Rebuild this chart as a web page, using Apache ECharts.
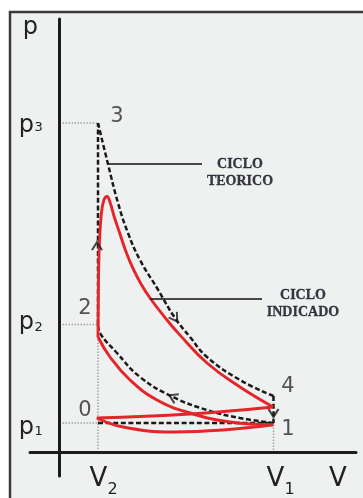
<!DOCTYPE html>
<html><head><meta charset="utf-8">
<script src="https://cdn.jsdelivr.net/npm/echarts@6/dist/echarts.min.js"></script>
<style>html,body{margin:0;padding:0;background:#fff}#c{width:363px;height:498px}</style>
</head><body><div id="c"></div>
<script>
// ---- key volumes / pressures (V2 = 1, p1 = 1) ----
const V2 = 1, V1 = 5.5, P1 = 1, P2 = 4.4, P3 = 11.345, P4 = 1.93;

// axis tick labels (main letter + subscript)
const xTickValues = [V2, V1, 7.14];
const xTickLabels = [['V','2'], ['V','1'], ['V','']];
const yTickValues = [P1, P2, P3, 14.62];
const yTickLabels = [['p','1'], ['p','2'], ['p','3'], ['p','']];

// theoretical cycle (dashed)
const theoCompression = [[5.5,1.0],[4.641,1.172],[3.795,1.448],[2.923,1.897],[2.077,2.586],[1.487,3.414],[1.051,4.103],[1.0,4.4]];
const theoCombustion = [[1.0,4.4],[1.0,11.345]];
const theoExpansion = [[1.0,11.345],[1.256,9.931],[1.513,8.586],[1.769,7.552],[2.077,6.621],[2.513,5.655],[2.974,4.621],[3.359,3.966],[3.795,3.276],[4.641,2.483],[5.5,1.93]];
const theoExhaustDrop = [[5.5,1.93],[5.5,1.0]];
const theoExchange = [[1.0,1.0],[5.5,1.0]];

// indicated cycle (red)
const indCompression = [[5.49,0.94],[4.385,1.034],[3.359,1.345],[2.513,1.793],[1.821,2.483],[1.308,3.276],[1.0,3.966]];
const indExpansion = [[1.0,3.966],[1.008,5.241],[1.018,6.4],[1.04,7.3],[1.085,8.2],[1.15,8.68],[1.231,8.81],[1.31,8.6],[1.41,8.14],[1.564,7.52],[1.72,6.9],[1.897,6.33],[2.1,5.8],[2.333,5.310],[2.769,4.552],[3.103,4.03],[3.795,3.069],[4.641,2.241],[5.49,1.552]];
const indExhaust = [[5.49,1.552],[3.359,1.31],[0.97,1.172]];
const indIntake = [[0.97,1.172],[1.641,0.862],[2.923,0.690],[4.205,0.759],[5.49,0.94]];

// dotted guide lines
const guides = [
  [[0.09,P3],[V2,P3]],
  [[0.09,P2],[V2,P2]],
  [[0.09,P1],[V2,P1]],
  [[V2,P2],[V2,0.05]],
  [[V1,0.95],[V1,0.05]]
];

// arrows: [V, p, rotation deg]
const arrows = [[0.974,7.10,0],[2.974,4.62,214],[2.923,1.897,64],[5.5,1.345,180]];

// point numbers
const pointLabels = [['0',0.667,1.43],['1',5.87,0.78],['2',0.667,4.93],['3',1.487,11.58],['4',5.87,2.25]];

// annotations: [text, V, p]
const notes = [['CICLO\nTEORICO',4.641,9.64],['CICLO\nINDICADO',6.256,5.12]];
const leaders = [[[1.256,9.931],[3.667,9.931]],[[2.333,5.276],[5.205,5.276]]];

const AX = '#1c1c1c', RED = '#e4262a', DASH = '#1a1a1a', TXT = '#222';
const FONT = 'DejaVu Sans';
const DASHPAT = [5,2.6];

function lineSeries(data, color, width, type, z) {
  return {type:'line', data:data, smooth:0.45, symbol:'none', silent:true, z:z,
    lineStyle:{color:color, width:width, type:type, cap:'butt'}};
}
function straight(data, color, width, type, z) {
  const s = lineSeries(data, color, width, type, z); s.smooth = false; return s;
}

const series = [];
guides.forEach(g => series.push(straight(g, '#a3a3a3', 1.5, [1.5,1.5], 1)));
series.push(lineSeries(theoCompression, DASH, 2.5, DASHPAT, 3));
series.push(straight(theoCombustion, DASH, 2.5, DASHPAT, 3));
series.push(lineSeries(theoExpansion, DASH, 2.5, DASHPAT, 3));
series.push(straight(theoExhaustDrop, DASH, 2.5, DASHPAT, 3));
series.push(straight(theoExchange, DASH, 2.5, DASHPAT, 3));
[indCompression, indExpansion, indExhaust, indIntake].forEach(d => series.push(lineSeries(d, RED, 2.9, 'solid', 4)));
leaders.forEach(l => series.push(straight(l, '#111', 1.3, 'solid', 5)));
series.push({type:'scatter', silent:true, z:6,
  data: arrows.map(a => ({value:[a[0],a[1]], symbolRotate:a[2]})),
  symbol:'path://M0,9 L5,0 L10,9', symbolSize:[10,8],
  itemStyle:{color:'rgba(0,0,0,0)', borderColor:'#1a1a1a', borderWidth:1.9}});
series.push({type:'scatter', silent:true, z:6, symbolSize:0,
  data: pointLabels.map(p => ({name:p[0], value:[p[1],p[2]]})),
  label:{show:true, position:'inside', formatter:'{b}', color:'#2b2b2b', fontFamily:FONT, fontSize:21}});
series.push({type:'scatter', silent:true, z:6, symbolSize:0,
  data: notes.map(n => ({name:n[0], value:[n[1],n[2]]})),
  label:{show:true, position:'inside', formatter:'{b}', color:'#0a0a18', fontFamily:'Liberation Serif',
    fontWeight:'bold', fontSize:14, lineHeight:17, align:'center',
    textBorderColor:'#0a0a18', textBorderWidth:0.3}});

const bgRect = {type:'rect', z:-100, silent:true, shape:{x:10,y:12,width:400,height:520},
    style:{fill:'#eff0f0', stroke:'#3a3a3a', lineWidth:2.5}};

const chart = echarts.init(document.getElementById('c'));
chart.setOption({
  animation:false,
  backgroundColor:'#ffffff',
  graphic:[bgRect],
  grid:{left:30, right:7, top:19, bottom:22, containLabel:false, outerBoundsMode:'none'},
  xAxis:{type:'value', min:-29/39, max:297/39,
    axisLine:{onZero:true, lineStyle:{color:AX, width:3}},
    axisTick:{show:false}, splitLine:{show:false}, axisLabel:{show:false}},
  yAxis:{type:'value', min:-24/29, max:433/29,
    axisLine:{onZero:true, lineStyle:{color:AX, width:3}},
    axisTick:{show:false}, splitLine:{show:false}, axisLabel:{show:false}},
  series: series
});

// tick labels placed through the axes' own scales
const yMainNudge = [4.5, -2, 3, 0];   // layout nudges (px)
const ySubNudge = [9, 3, 4.5, 0];
const tickGraphics = [bgRect];
yTickValues.forEach((v, i) => {
  const py = chart.convertToPixel({yAxisIndex:0}, v);
  const lab = yTickLabels[i];
  const rightX = lab[1] ? 34 : 38;
  tickGraphics.push({type:'text', silent:true, z:10, x:rightX, y:py + yMainNudge[i],
    style:{text:lab[0], font:'24px "DejaVu Sans"', fill:TXT, align:'right', verticalAlign:'middle'}});
  if (lab[1]) tickGraphics.push({type:'text', silent:true, z:10, x:rightX + 0.5, y:py + ySubNudge[i],
    style:{text:lab[1], font:'13px "DejaVu Sans"', fill:TXT, align:'left', verticalAlign:'middle'}});
});
xTickValues.forEach((v, i) => {
  const px = chart.convertToPixel({xAxisIndex:0}, v);
  const lab = xTickLabels[i];
  const cx = px + (i === 1 ? 2 : 0.5);
  tickGraphics.push({type:'text', silent:true, z:10, x:cx, y:479,
    style:{text:lab[0], font:'26px "DejaVu Sans"', fill:TXT, align:'center', verticalAlign:'middle'}});
  if (lab[1]) tickGraphics.push({type:'text', silent:true, z:10, x:cx + 9, y:489.5,
    style:{text:lab[1], font:'16px "DejaVu Sans"', fill:TXT, align:'left', verticalAlign:'middle'}});
});
chart.setOption({graphic: tickGraphics});
</script></body></html>
